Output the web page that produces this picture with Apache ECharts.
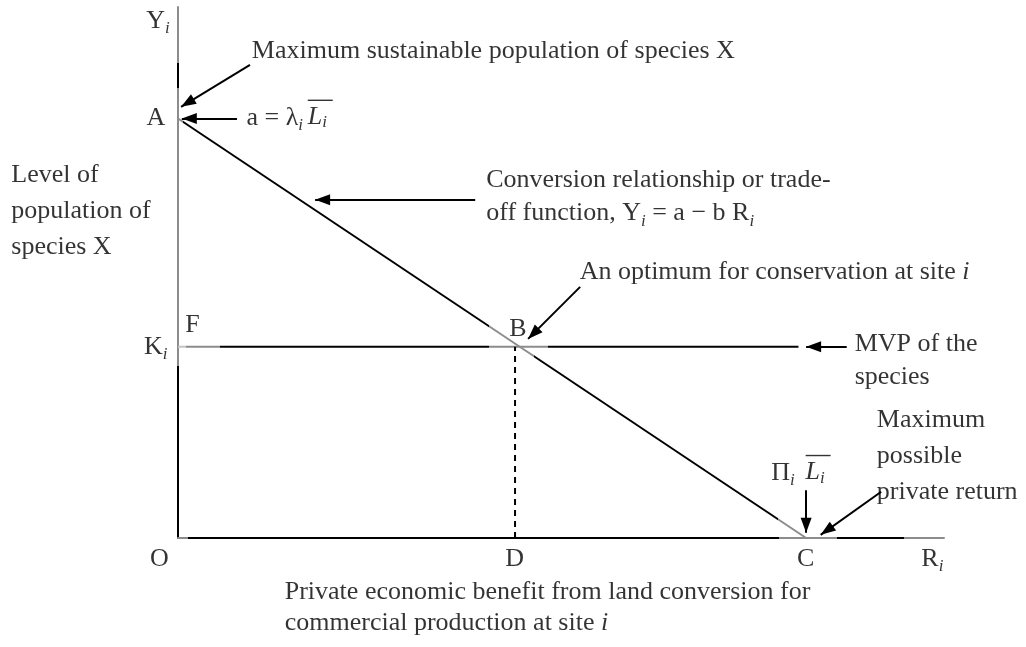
<!DOCTYPE html>
<html><head><meta charset="utf-8">
<script src="https://cdn.jsdelivr.net/npm/echarts@6/dist/echarts.min.js"></script>
<style>html,body{margin:0;padding:0;background:#fff}#c{width:1026px;height:647px}</style>
</head><body><div id="c"></div>
<script>
// ---- Key values of the diagram (axis units, 0–100 on both axes) ----
const A_VALUE = 79;      // a = λi·L̄i, intercept on Yi axis
const C_VALUE = 82;      // Πi·L̄i, intercept on Ri axis
const K_VALUE = 36;      // Ki, minimum viable population
const D_VALUE = 44;      // D, private benefit at optimum B
const MVP_END = 81;      // where the MVP line stops

const tradeOffLine = [[0, A_VALUE], [C_VALUE, 0]];
const mvpLine = [[0, K_VALUE], [MVP_END, K_VALUE]];
const dropLine = [[D_VALUE, 0], [D_VALUE, K_VALUE]];

// ---- Annotation texts and their anchors (axis units) ----
const annotationTexts = [
  '{t|Y}{s|i}',
  '{t|A}',
  '{t|Maximum sustainable population of species X}',
  '{t|a = λ}{s|i}',
  '{ov| }\n{L|L}{Ls|i}',
  '{b|Level of}\n{b|population of}\n{b|species X}',
  '{c|Conversion relationship or trade-}\n{c|off function, Y}{cs|i}{c| = a − b R}{cs|i}',
  '{t|An optimum for conservation at site }{it|i}',
  '{t|F}',
  '{t|B}',
  '{t|K}{s|i}',
  '{c|MVP of the}\n{c|species}',
  '{b|Maximum}\n{b|possible}\n{b|private return}',
  '{t|Π}{s|i}',
  '{ov| }\n{L|L}{Ls|i}',
  '{t|O}',
  '{t|D}',
  '{t|C}',
  '{t|R}{s|i}',
  '{p|Private economic benefit from land conversion for}\n{p|commercial production at site }{pi|i}'
];
const annotationAnchors = [
  [-1.0, 97.2], [-1.6, 79], [9.7, 91.5], [9.0, 79], [17.0, 79.7],
  [-21.7, 61.4], [40.3, 64.2], [52.5, 49.9], [1.0, 39.9], [43.3, 39.2],
  [-1.3, 35.8], [88.4, 33.3], [91.3, 15.4], [77.5, 12.2], [C_VALUE, 12.8],
  [-2.35, -4.1], [D_VALUE, -4.1], [C_VALUE, -4.1], [97.1, -4.1], [14.0, -13.3]
];
const annotationAlign = [
  'right', 'right', 'left', 'left', 'left',
  'left', 'left', 'left', 'left', 'left',
  'right', 'left', 'left', 'left', 'left',
  'center', 'center', 'center', 'left', 'left'
];

// ---- Arrows: tail -> head (axis units) ----
const arrowTails = [[9.4, 89.1], [7.7, 79], [38.8, 63.7], [52.5, 47.3], [87.3, K_VALUE], [C_VALUE, 9.0], [91.8, 8.7]];
const arrowHeads = [[0.4, 81.2], [0.5, 79], [17.9, 63.7], [45.7, 37.5], [C_VALUE, K_VALUE], [C_VALUE, 1.0], [83.9, 0.6]];

// ---- Styling ----
const FONT = "'Liberation Serif', 'Times New Roman', serif";
const GRAY = '#8c8c8c', LIGHT = '#c4c4c4', BLACK = '#000';
function bands(vertical, stops) {
  const cs = [];
  for (let i = 0; i < stops.length; i++) {
    const start = stops[i][0], end = i + 1 < stops.length ? stops[i + 1][0] : 1;
    cs.push({ offset: start, color: stops[i][1] }, { offset: end, color: stops[i][1] });
  }
  return vertical ? new echarts.graphic.LinearGradient(0, 0, 0, 1, cs)
                  : new echarts.graphic.LinearGradient(0, 0, 1, 0, cs);
}
const yAxisColor = bands(true, [[0, GRAY], [0.109, BLACK], [0.156, GRAY], [0.674, BLACK]]);
const xAxisColor = bands(false, [[0, GRAY], [0.016, BLACK], [0.783, GRAY], [0.858, BLACK], [0.945, GRAY]]);
const mvpColor = bands(false, [[0, LIGHT], [0.016, GRAY], [0.071, BLACK], [0.502, GRAY], [0.595, BLACK]]);
const tradeColor = bands(false, [[0, GRAY], [0.012, BLACK], [0.495, GRAY], [0.567, BLACK], [0.951, GRAY]]);

const base = { fontFamily: FONT, color: '#000' };
const rich = {
  t: { ...base, fontSize: 26, lineHeight: 32 },
  it: { ...base, fontSize: 26, lineHeight: 32, fontStyle: 'italic' },
  s: { ...base, fontSize: 17, lineHeight: 32, fontStyle: 'italic', verticalAlign: 'bottom' },
  b: { ...base, fontSize: 26, lineHeight: 36 },
  c: { ...base, fontSize: 26, lineHeight: 33 },
  cs: { ...base, fontSize: 17, lineHeight: 33, fontStyle: 'italic', verticalAlign: 'bottom' },
  p: { ...base, fontSize: 26, lineHeight: 31 },
  pi: { ...base, fontSize: 26, lineHeight: 31, fontStyle: 'italic' },
  ov: { width: 25, height: 1.4, lineHeight: 6, backgroundColor: '#000', fontSize: 4 },
  L: { ...base, fontSize: 26, lineHeight: 28, fontStyle: 'italic' },
  Ls: { ...base, fontSize: 17, lineHeight: 28, fontStyle: 'italic', verticalAlign: 'bottom' }
};

const labelData = annotationTexts.map((txt, i) => ({
  value: annotationAnchors[i],
  label: {
    show: true, formatter: txt, rich: rich,
    position: [0, 0], align: annotationAlign[i], verticalAlign: 'middle'
  }
}));

const arrowData = arrowTails.map((t, i) => [
  { coord: t, symbol: 'none' },
  { coord: arrowHeads[i], symbol: 'triangle', symbolSize: [11, 15], symbolOffset: [0, 7.5] }
]);

const chart = echarts.init(document.getElementById('c'), null, { renderer: 'canvas' });
chart.setOption({
  animation: false,
  backgroundColor: '#fff',
  grid: { left: 178, right: 82, top: 7, bottom: 109 },
  xAxis: {
    type: 'value', min: 0, max: 100,
    axisLine: { show: true, onZero: false, lineStyle: { color: xAxisColor, width: 2 } },
    axisTick: { show: false }, axisLabel: { show: false }, splitLine: { show: false }
  },
  yAxis: {
    type: 'value', min: 0, max: 100,
    axisLine: { show: true, onZero: false, lineStyle: { color: yAxisColor, width: 2 } },
    axisTick: { show: false }, axisLabel: { show: false }, splitLine: { show: false }
  },
  series: [
    { type: 'line', data: tradeOffLine, symbol: 'none', silent: true,
      lineStyle: { color: tradeColor, width: 2 } },
    { type: 'line', data: mvpLine, symbol: 'none', silent: true,
      lineStyle: { color: mvpColor, width: 2 } },
    { type: 'line', data: dropLine, symbol: 'none', silent: true,
      lineStyle: { color: '#000', width: 2, type: [6, 5] } },
    { type: 'scatter', data: labelData, symbolSize: 1, clip: false, silent: true,
      itemStyle: { color: 'transparent' },
      markLine: {
        silent: true, animation: false,
        lineStyle: { color: '#000', width: 2, type: 'solid' },
        itemStyle: { color: '#000' },
        label: { show: false },
        emphasis: { disabled: true },
        data: arrowData
      }
    }
  ]
});
</script></body></html>
